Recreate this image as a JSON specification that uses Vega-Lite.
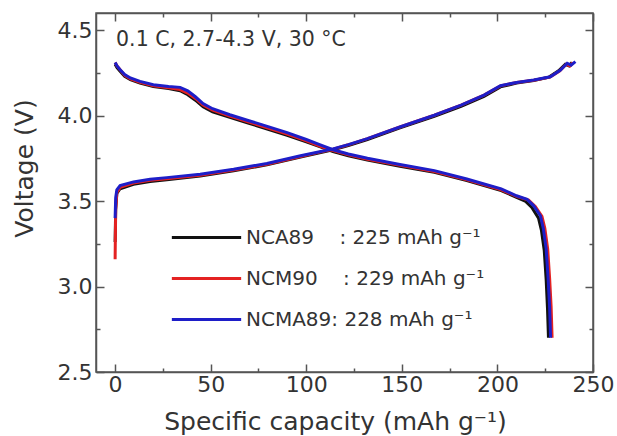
{
  "$schema": "https://vega.github.io/schema/vega-lite/v6.json",
  "width": 497,
  "height": 359,
  "autosize": {"type": "none"},
  "padding": {"left": 96, "top": 13, "right": 24, "bottom": 64},
  "background": "white",
  "config": {
    "font": "DejaVu Sans",
    "view": {"stroke": "#555555", "strokeWidth": 1.5},
    "axis": {
      "grid": false,
      "domainColor": "#555555",
      "domainWidth": 1.5,
      "tickColor": "#555555",
      "tickWidth": 1.5,
      "labelColor": "#333333",
      "labelFontSize": 22,
      "titleColor": "#333333",
      "titleFontSize": 25,
      "titleFontWeight": "normal"
    }
  },
  "layer": [
    {
      "data": {
        "values": [
          {"s":"NCA89","b":"d","i":0,"x":0,"v":4.30},
          {"s":"NCA89","b":"d","i":1,"x":1,"v":4.28},
          {"s":"NCA89","b":"d","i":2,"x":2.5,"v":4.26},
          {"s":"NCA89","b":"d","i":3,"x":5,"v":4.23},
          {"s":"NCA89","b":"d","i":4,"x":8,"v":4.21},
          {"s":"NCA89","b":"d","i":5,"x":13,"v":4.19},
          {"s":"NCA89","b":"d","i":6,"x":20,"v":4.17},
          {"s":"NCA89","b":"d","i":7,"x":28,"v":4.158},
          {"s":"NCA89","b":"d","i":8,"x":34,"v":4.145},
          {"s":"NCA89","b":"d","i":9,"x":38,"v":4.122},
          {"s":"NCA89","b":"d","i":10,"x":42,"v":4.09},
          {"s":"NCA89","b":"d","i":11,"x":46,"v":4.052},
          {"s":"NCA89","b":"d","i":12,"x":51,"v":4.022},
          {"s":"NCA89","b":"d","i":13,"x":60,"v":3.99},
          {"s":"NCA89","b":"d","i":14,"x":70,"v":3.955},
          {"s":"NCA89","b":"d","i":15,"x":80,"v":3.92},
          {"s":"NCA89","b":"d","i":16,"x":90,"v":3.885},
          {"s":"NCA89","b":"d","i":17,"x":100,"v":3.847},
          {"s":"NCA89","b":"d","i":18,"x":107,"v":3.818},
          {"s":"NCA89","b":"d","i":19,"x":114,"v":3.79},
          {"s":"NCA89","b":"d","i":20,"x":122,"v":3.765},
          {"s":"NCA89","b":"d","i":21,"x":132,"v":3.74},
          {"s":"NCA89","b":"d","i":22,"x":149,"v":3.704},
          {"s":"NCA89","b":"d","i":23,"x":167,"v":3.668},
          {"s":"NCA89","b":"d","i":24,"x":184,"v":3.62},
          {"s":"NCA89","b":"d","i":25,"x":193,"v":3.59},
          {"s":"NCA89","b":"d","i":26,"x":202,"v":3.561},
          {"s":"NCA89","b":"d","i":27,"x":210,"v":3.522},
          {"s":"NCA89","b":"d","i":28,"x":214.5,"v":3.50},
          {"s":"NCA89","b":"d","i":29,"x":218,"v":3.462},
          {"s":"NCA89","b":"d","i":30,"x":221.5,"v":3.40},
          {"s":"NCA89","b":"d","i":31,"x":223,"v":3.33},
          {"s":"NCA89","b":"d","i":32,"x":224.5,"v":3.21},
          {"s":"NCA89","b":"d","i":33,"x":225.5,"v":3.04},
          {"s":"NCA89","b":"d","i":34,"x":226.2,"v":2.87},
          {"s":"NCA89","b":"d","i":35,"x":226.7,"v":2.70},
          {"s":"NCA89","b":"c","i":0,"x":0,"v":3.26},
          {"s":"NCA89","b":"c","i":1,"x":0.3,"v":3.45},
          {"s":"NCA89","b":"c","i":2,"x":0.9,"v":3.545},
          {"s":"NCA89","b":"c","i":3,"x":2.6,"v":3.572},
          {"s":"NCA89","b":"c","i":4,"x":9.6,"v":3.598},
          {"s":"NCA89","b":"c","i":5,"x":18.3,"v":3.614},
          {"s":"NCA89","b":"c","i":6,"x":27,"v":3.625},
          {"s":"NCA89","b":"c","i":7,"x":44.5,"v":3.646},
          {"s":"NCA89","b":"c","i":8,"x":62,"v":3.677},
          {"s":"NCA89","b":"c","i":9,"x":79.4,"v":3.712},
          {"s":"NCA89","b":"c","i":10,"x":97,"v":3.758},
          {"s":"NCA89","b":"c","i":11,"x":107,"v":3.782},
          {"s":"NCA89","b":"c","i":12,"x":114,"v":3.80},
          {"s":"NCA89","b":"c","i":13,"x":122,"v":3.825},
          {"s":"NCA89","b":"c","i":14,"x":132,"v":3.86},
          {"s":"NCA89","b":"c","i":15,"x":149,"v":3.928},
          {"s":"NCA89","b":"c","i":16,"x":167,"v":3.996},
          {"s":"NCA89","b":"c","i":17,"x":181,"v":4.054},
          {"s":"NCA89","b":"c","i":18,"x":193,"v":4.112},
          {"s":"NCA89","b":"c","i":19,"x":201.6,"v":4.168},
          {"s":"NCA89","b":"c","i":20,"x":210,"v":4.19},
          {"s":"NCA89","b":"c","i":21,"x":219,"v":4.205},
          {"s":"NCA89","b":"c","i":22,"x":227,"v":4.225},
          {"s":"NCA89","b":"c","i":23,"x":232,"v":4.262},
          {"s":"NCA89","b":"c","i":24,"x":235.5,"v":4.30},
          {"s":"NCA89","b":"c","i":25,"x":237.5,"v":4.29},
          {"s":"NCA89","b":"c","i":26,"x":239,"v":4.31},

          {"s":"NCM90","b":"d","i":0,"x":0,"v":4.31},
          {"s":"NCM90","b":"d","i":1,"x":1,"v":4.29},
          {"s":"NCM90","b":"d","i":2,"x":2.5,"v":4.27},
          {"s":"NCM90","b":"d","i":3,"x":5,"v":4.235},
          {"s":"NCM90","b":"d","i":4,"x":8,"v":4.215},
          {"s":"NCM90","b":"d","i":5,"x":13,"v":4.195},
          {"s":"NCM90","b":"d","i":6,"x":20,"v":4.175},
          {"s":"NCM90","b":"d","i":7,"x":28,"v":4.163},
          {"s":"NCM90","b":"d","i":8,"x":34,"v":4.152},
          {"s":"NCM90","b":"d","i":9,"x":38,"v":4.132},
          {"s":"NCM90","b":"d","i":10,"x":42,"v":4.10},
          {"s":"NCM90","b":"d","i":11,"x":46,"v":4.062},
          {"s":"NCM90","b":"d","i":12,"x":51,"v":4.032},
          {"s":"NCM90","b":"d","i":13,"x":60,"v":3.997},
          {"s":"NCM90","b":"d","i":14,"x":70,"v":3.962},
          {"s":"NCM90","b":"d","i":15,"x":80,"v":3.927},
          {"s":"NCM90","b":"d","i":16,"x":90,"v":3.892},
          {"s":"NCM90","b":"d","i":17,"x":100,"v":3.852},
          {"s":"NCM90","b":"d","i":18,"x":107,"v":3.822},
          {"s":"NCM90","b":"d","i":19,"x":114,"v":3.795},
          {"s":"NCM90","b":"d","i":20,"x":122,"v":3.77},
          {"s":"NCM90","b":"d","i":21,"x":132,"v":3.745},
          {"s":"NCM90","b":"d","i":22,"x":149,"v":3.709},
          {"s":"NCM90","b":"d","i":23,"x":167,"v":3.673},
          {"s":"NCM90","b":"d","i":24,"x":184,"v":3.624},
          {"s":"NCM90","b":"d","i":25,"x":193,"v":3.595},
          {"s":"NCM90","b":"d","i":26,"x":202,"v":3.566},
          {"s":"NCM90","b":"d","i":27,"x":210,"v":3.527},
          {"s":"NCM90","b":"d","i":28,"x":216.3,"v":3.505},
          {"s":"NCM90","b":"d","i":29,"x":219.8,"v":3.468},
          {"s":"NCM90","b":"d","i":30,"x":223.3,"v":3.41},
          {"s":"NCM90","b":"d","i":31,"x":224.8,"v":3.34},
          {"s":"NCM90","b":"d","i":32,"x":226.3,"v":3.22},
          {"s":"NCM90","b":"d","i":33,"x":227.3,"v":3.05},
          {"s":"NCM90","b":"d","i":34,"x":228.1,"v":2.88},
          {"s":"NCM90","b":"d","i":35,"x":228.6,"v":2.70},
          {"s":"NCM90","b":"c","i":0,"x":0,"v":3.16},
          {"s":"NCM90","b":"c","i":1,"x":0.3,"v":3.45},
          {"s":"NCM90","b":"c","i":2,"x":0.9,"v":3.55},
          {"s":"NCM90","b":"c","i":3,"x":2.6,"v":3.58},
          {"s":"NCM90","b":"c","i":4,"x":9.6,"v":3.605},
          {"s":"NCM90","b":"c","i":5,"x":18.3,"v":3.621},
          {"s":"NCM90","b":"c","i":6,"x":27,"v":3.631},
          {"s":"NCM90","b":"c","i":7,"x":44.5,"v":3.651},
          {"s":"NCM90","b":"c","i":8,"x":62,"v":3.681},
          {"s":"NCM90","b":"c","i":9,"x":79.4,"v":3.715},
          {"s":"NCM90","b":"c","i":10,"x":97,"v":3.761},
          {"s":"NCM90","b":"c","i":11,"x":107,"v":3.786},
          {"s":"NCM90","b":"c","i":12,"x":114,"v":3.803},
          {"s":"NCM90","b":"c","i":13,"x":122,"v":3.829},
          {"s":"NCM90","b":"c","i":14,"x":132,"v":3.865},
          {"s":"NCM90","b":"c","i":15,"x":149,"v":3.933},
          {"s":"NCM90","b":"c","i":16,"x":167,"v":4.002},
          {"s":"NCM90","b":"c","i":17,"x":181,"v":4.061},
          {"s":"NCM90","b":"c","i":18,"x":193,"v":4.12},
          {"s":"NCM90","b":"c","i":19,"x":201.6,"v":4.174},
          {"s":"NCM90","b":"c","i":20,"x":210,"v":4.193},
          {"s":"NCM90","b":"c","i":21,"x":219,"v":4.207},
          {"s":"NCM90","b":"c","i":22,"x":227.5,"v":4.225},
          {"s":"NCM90","b":"c","i":23,"x":232.5,"v":4.26},
          {"s":"NCM90","b":"c","i":24,"x":236,"v":4.30},
          {"s":"NCM90","b":"c","i":25,"x":238,"v":4.29},
          {"s":"NCM90","b":"c","i":26,"x":239.5,"v":4.31},

          {"s":"NCMA89","b":"d","i":0,"x":0,"v":4.31},
          {"s":"NCMA89","b":"d","i":1,"x":1,"v":4.29},
          {"s":"NCMA89","b":"d","i":2,"x":2.5,"v":4.27},
          {"s":"NCMA89","b":"d","i":3,"x":5,"v":4.24},
          {"s":"NCMA89","b":"d","i":4,"x":8,"v":4.22},
          {"s":"NCMA89","b":"d","i":5,"x":13,"v":4.20},
          {"s":"NCMA89","b":"d","i":6,"x":20,"v":4.18},
          {"s":"NCMA89","b":"d","i":7,"x":28,"v":4.17},
          {"s":"NCMA89","b":"d","i":8,"x":34,"v":4.165},
          {"s":"NCMA89","b":"d","i":9,"x":38,"v":4.145},
          {"s":"NCMA89","b":"d","i":10,"x":42,"v":4.11},
          {"s":"NCMA89","b":"d","i":11,"x":46,"v":4.07},
          {"s":"NCMA89","b":"d","i":12,"x":51,"v":4.04},
          {"s":"NCMA89","b":"d","i":13,"x":60,"v":4.005},
          {"s":"NCMA89","b":"d","i":14,"x":70,"v":3.97},
          {"s":"NCMA89","b":"d","i":15,"x":80,"v":3.935},
          {"s":"NCMA89","b":"d","i":16,"x":90,"v":3.90},
          {"s":"NCMA89","b":"d","i":17,"x":100,"v":3.86},
          {"s":"NCMA89","b":"d","i":18,"x":107,"v":3.83},
          {"s":"NCMA89","b":"d","i":19,"x":114,"v":3.80},
          {"s":"NCMA89","b":"d","i":20,"x":122,"v":3.775},
          {"s":"NCMA89","b":"d","i":21,"x":132,"v":3.75},
          {"s":"NCMA89","b":"d","i":22,"x":149,"v":3.714},
          {"s":"NCMA89","b":"d","i":23,"x":167,"v":3.678},
          {"s":"NCMA89","b":"d","i":24,"x":184,"v":3.629},
          {"s":"NCMA89","b":"d","i":25,"x":193,"v":3.60},
          {"s":"NCMA89","b":"d","i":26,"x":202,"v":3.571},
          {"s":"NCMA89","b":"d","i":27,"x":210,"v":3.531},
          {"s":"NCMA89","b":"d","i":28,"x":215.5,"v":3.51},
          {"s":"NCMA89","b":"d","i":29,"x":219,"v":3.472},
          {"s":"NCMA89","b":"d","i":30,"x":222.5,"v":3.414},
          {"s":"NCMA89","b":"d","i":31,"x":224,"v":3.34},
          {"s":"NCMA89","b":"d","i":32,"x":225.5,"v":3.22},
          {"s":"NCMA89","b":"d","i":33,"x":226.5,"v":3.05},
          {"s":"NCMA89","b":"d","i":34,"x":227.3,"v":2.88},
          {"s":"NCMA89","b":"d","i":35,"x":227.8,"v":2.70},
          {"s":"NCMA89","b":"c","i":0,"x":0,"v":3.40},
          {"s":"NCMA89","b":"c","i":1,"x":0.3,"v":3.52},
          {"s":"NCMA89","b":"c","i":2,"x":0.9,"v":3.565},
          {"s":"NCMA89","b":"c","i":3,"x":2.6,"v":3.59},
          {"s":"NCMA89","b":"c","i":4,"x":9.6,"v":3.612},
          {"s":"NCMA89","b":"c","i":5,"x":18.3,"v":3.627},
          {"s":"NCMA89","b":"c","i":6,"x":27,"v":3.637},
          {"s":"NCMA89","b":"c","i":7,"x":44.5,"v":3.657},
          {"s":"NCMA89","b":"c","i":8,"x":62,"v":3.686},
          {"s":"NCMA89","b":"c","i":9,"x":79.4,"v":3.72},
          {"s":"NCMA89","b":"c","i":10,"x":97,"v":3.765},
          {"s":"NCMA89","b":"c","i":11,"x":107,"v":3.788},
          {"s":"NCMA89","b":"c","i":12,"x":114,"v":3.805},
          {"s":"NCMA89","b":"c","i":13,"x":122,"v":3.83},
          {"s":"NCMA89","b":"c","i":14,"x":132,"v":3.865},
          {"s":"NCMA89","b":"c","i":15,"x":149,"v":3.933},
          {"s":"NCMA89","b":"c","i":16,"x":167,"v":4.002},
          {"s":"NCMA89","b":"c","i":17,"x":181,"v":4.061},
          {"s":"NCMA89","b":"c","i":18,"x":193,"v":4.12},
          {"s":"NCMA89","b":"c","i":19,"x":201.6,"v":4.175},
          {"s":"NCMA89","b":"c","i":20,"x":210,"v":4.194},
          {"s":"NCMA89","b":"c","i":21,"x":219,"v":4.208},
          {"s":"NCMA89","b":"c","i":22,"x":227.7,"v":4.227},
          {"s":"NCMA89","b":"c","i":23,"x":233,"v":4.266},
          {"s":"NCMA89","b":"c","i":24,"x":236.5,"v":4.306},
          {"s":"NCMA89","b":"c","i":25,"x":238.5,"v":4.295},
          {"s":"NCMA89","b":"c","i":26,"x":240.8,"v":4.316}
        ]
      },
      "mark": {"type": "line", "strokeWidth": 3},
      "encoding": {
        "x": {
          "field": "x", "type": "quantitative",
          "scale": {"domain": [-10, 250], "nice": false, "zero": false},
          "axis": {
            "orient": "bottom",
            "values": [0, 25, 50, 75, 100, 125, 150, 175, 200, 225, 250],
            "labelExpr": "datum.value % 50 === 0 ? datum.label : ''",
            "tickSize": {"condition": {"test": "datum.value % 50 === 0", "value": -8}, "value": -4},
            "labelPadding": 10,
            "labelFlush": false,
            "title": "Specific capacity (mAh g⁻¹)",
            "titlePadding": 14,
            "titleX": 239
          }
        },
        "y": {
          "field": "v", "type": "quantitative",
          "scale": {"domain": [2.5, 4.6], "nice": false, "zero": false},
          "axis": {
            "orient": "left",
            "values": [2.5, 2.75, 3, 3.25, 3.5, 3.75, 4, 4.25, 4.5],
            "format": ".1f",
            "labelExpr": "(datum.value * 4) % 2 === 0 ? datum.label : ''",
            "tickSize": {"condition": {"test": "(datum.value * 4) % 2 === 0", "value": -8}, "value": -4},
            "labelPadding": 12,
            "labelFlush": false,
            "title": "Voltage (V)",
            "titleX": -72,
            "titleY": 155,
            "titleBaseline": "middle",
            "titleAngle": 270
          }
        },
        "color": {
          "field": "s", "type": "nominal",
          "scale": {"domain": ["NCA89", "NCM90", "NCMA89"], "range": ["#111111", "#e42222", "#1e1ec8"]},
          "legend": {
            "orient": "none",
            "legendX": 80,
            "legendY": 194,
            "title": null,
            "symbolType": "M-1.2,0H1.2",
            "symbolSize": 3335,
            "symbolStrokeWidth": 3,
            "labelFontSize": 20,
            "labelLimit": 0,
            "labelColor": "#333333",
            "labelOffset": 9,
            "rowPadding": 0,
            "labelExpr": "datum.label === 'NCA89' ? 'NCA89\u00a0\u00a0\u00a0 : 225 mAh g⁻¹' : (datum.label === 'NCM90' ? 'NCM90\u00a0\u00a0\u00a0 : 229 mAh g⁻¹' : 'NCMA89: 228 mAh g⁻¹')"
          }
        },
        "detail": {"field": "b"},
        "order": {"field": "i", "type": "quantitative"}
      }
    },
    {
      "data": {"values": [{"t": "0.1 C, 2.7-4.3 V, 30 °C"}]},
      "mark": {"type": "text", "align": "left", "baseline": "middle", "fontSize": 20.5, "color": "#333333"},
      "encoding": {
        "x": {
          "datum": 0.5, "type": "quantitative",
          "axis": {
            "orient": "top",
            "values": [0, 25, 50, 75, 100, 125, 150, 175, 200, 225, 250],
            "labels": false,
            "title": null,
            "tickSize": {"condition": {"test": "datum.value % 50 === 0", "value": -8}, "value": -4}
          }
        },
        "y": {
          "datum": 4.44, "type": "quantitative",
          "axis": {
            "orient": "right",
            "values": [2.5, 2.75, 3, 3.25, 3.5, 3.75, 4, 4.25, 4.5],
            "labels": false,
            "title": null,
            "tickSize": {"condition": {"test": "(datum.value * 4) % 2 === 0", "value": -8}, "value": -4}
          }
        },
        "text": {"field": "t"}
      }
    }
  ],
  "resolve": {"axis": {"x": "independent", "y": "independent"}}
}
